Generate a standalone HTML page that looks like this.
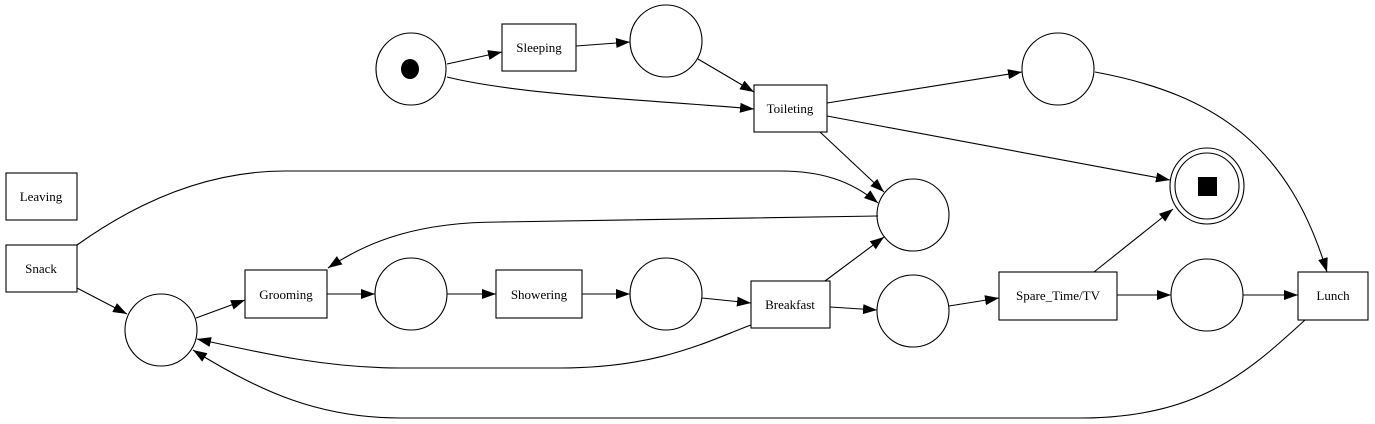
<!DOCTYPE html>
<html><head><meta charset="utf-8"><style>
html,body{margin:0;padding:0;background:#fff;width:1375px;height:424px;overflow:hidden}
svg text{font-family:"Liberation Serif",serif;font-size:13px;fill:#000}
</style></head><body>
<svg width="1375" height="424" viewBox="0 0 1375 424" xmlns="http://www.w3.org/2000/svg">
<defs>
<marker id="a" markerWidth="16" markerHeight="12" refX="14" refY="5" orient="auto" markerUnits="userSpaceOnUse">
<path d="M0,0 L14,5 L0,10 Z" fill="#000"/>
</marker>
</defs>
<g fill="none" stroke="#000" stroke-width="1.1">
<ellipse cx="411" cy="69" rx="35" ry="36"/>
<ellipse cx="666" cy="41" rx="36" ry="36"/>
<ellipse cx="1058" cy="69" rx="36" ry="36"/>
<ellipse cx="1207" cy="186" rx="37" ry="38"/>
<ellipse cx="1207" cy="186" rx="32" ry="33"/>
<ellipse cx="913" cy="215" rx="36" ry="36"/>
<ellipse cx="161" cy="330" rx="36" ry="36"/>
<ellipse cx="411" cy="294" rx="36" ry="36"/>
<ellipse cx="666" cy="294" rx="36" ry="36"/>
<ellipse cx="913" cy="311" rx="36" ry="36"/>
<ellipse cx="1207" cy="295" rx="36" ry="36"/>
<rect x="502" y="24" width="74" height="47"/>
<rect x="754" y="85" width="73" height="47"/>
<rect x="6" y="173" width="71" height="47"/>
<rect x="6" y="245" width="71" height="47"/>
<rect x="245" y="270" width="82" height="48"/>
<rect x="496" y="270" width="86" height="48"/>
<rect x="751" y="281" width="79" height="47"/>
<rect x="999" y="272" width="118" height="48"/>
<rect x="1298" y="272" width="70" height="48"/>
<g marker-end="url(#a)">
<path d="M447,64 L502,52"/>
<path d="M447,77 C520,95 650,100 754,109"/>
<path d="M576,46 L630,42"/>
<path d="M698,59 L754,92"/>
<path d="M827,103 L1022,72"/>
<path d="M827,116 L1170,180"/>
<path d="M820,132 L884,192"/>
<path d="M1095,72 C1220,95 1290,150 1327,272"/>
<path d="M77,245 C140,200 210,171 285,171 L780,171 C820,171 850,180 878,203"/>
<path d="M878,216 L500,222 C420,222 370,240 328,268"/>
<path d="M77,288 L127,314"/>
<path d="M196,318 L245,300"/>
<path d="M327,294 L375,294"/>
<path d="M447,294 L496,294"/>
<path d="M582,294 L630,294"/>
<path d="M702,298 L751,303"/>
<path d="M825,281 L884,237"/>
<path d="M830,307 L877,310"/>
<path d="M751,325 C710,340 660,368 560,368 L400,368 C330,368 270,355 197,339"/>
<path d="M949,306 L999,298"/>
<path d="M1094,272 L1173,209"/>
<path d="M1117,295 L1171,295"/>
<path d="M1243,295 L1298,295"/>
<path d="M1305,320 C1250,370 1200,418 1080,418 L400,418 C320,418 260,392 193,350"/>
</g>
</g>
<ellipse cx="410" cy="69" rx="9" ry="10" fill="#000"/>
<rect x="1198" y="177" width="19" height="19" fill="#000"/>
<g text-anchor="middle">
<text x="539" y="52">Sleeping</text>
<text x="790" y="113">Toileting</text>
<text x="41" y="201">Leaving</text>
<text x="41" y="273">Snack</text>
<text x="286" y="299">Grooming</text>
<text x="539" y="299">Showering</text>
<text x="790" y="309">Breakfast</text>
<text x="1058" y="300">Spare_Time/TV</text>
<text x="1333" y="300">Lunch</text>
</g>
</svg>
</body></html>
